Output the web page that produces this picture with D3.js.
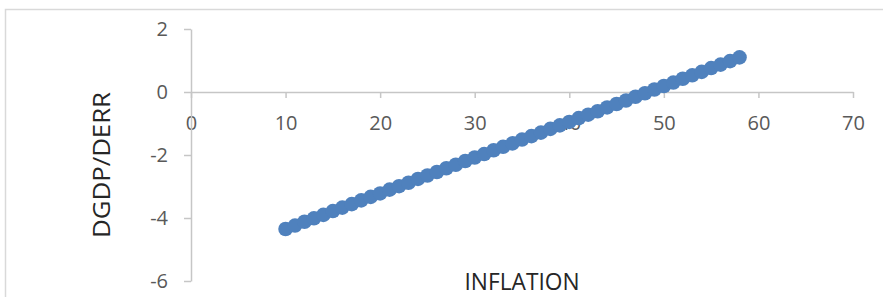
<!DOCTYPE html>
<html>
<head>
<meta charset="utf-8">
<script src="https://cdn.jsdelivr.net/npm/d3@7"></script>
<style>
  html, body { margin: 0; padding: 0; background: #fff; }
  svg { display: block; font-family: "Open Sans", sans-serif; }
</style>
</head>
<body>
<div id="chart"></div>
<script>
"use strict";

// Data
const inflation = [
  10, 11, 12, 13, 14, 15, 16, 17, 18, 19,
  20, 21, 22, 23, 24, 25, 26, 27, 28, 29,
  30, 31, 32, 33, 34, 35, 36, 37, 38, 39,
  40, 41, 42, 43, 44, 45, 46, 47, 48, 49,
  50, 51, 52, 53, 54, 55, 56, 57, 58
];
const dgdpDerr = [
  -4.35, -4.24, -4.12, -4.01, -3.90, -3.78, -3.67, -3.56, -3.44, -3.33,
  -3.22, -3.10, -2.99, -2.88, -2.76, -2.65, -2.54, -2.42, -2.31, -2.19,
  -2.08, -1.97, -1.85, -1.74, -1.63, -1.51, -1.40, -1.29, -1.17, -1.06,
  -0.95, -0.83, -0.72, -0.61, -0.49, -0.38, -0.27, -0.15, -0.04, 0.08,
  0.19, 0.30, 0.42, 0.53, 0.64, 0.76, 0.87, 0.98, 1.10
];
const xTicks = [0, 10, 20, 30, 40, 50, 60, 70];
const yTicks = [-6, -4, -2, 0, 2];
const xTitle = "INFLATION";
const yTitle = "DGDP/DERR";

const width = 883;
const height = 297;

const axisColour = "#c6c6c6";
const labelColour = "#595959";
const pointColour = "#4f81bd";

const svg = d3.select("#chart")
  .append("svg")
  .attr("width", width)
  .attr("height", height);

// Chart frame (runs off the right and bottom edges)
svg.append("rect")
  .attr("x", 5.5)
  .attr("y", 9.5)
  .attr("width", width + 20)
  .attr("height", height + 20)
  .attr("fill", "none")
  .attr("stroke", "#d9d9d9")
  .attr("stroke-width", 1.5);

// Scales
const x = d3.scaleLinear().domain([0, 70]).range([191, 853]);
const y = d3.scaleLinear().domain([-6, 2]).range([281, 29]);

// plain hyphen for negatives, like the source
const plain = d => String(d);

// X axis sits at y = 0
const xAxis = svg.append("g")
  .attr("transform", `translate(0, ${y(0)})`)
  .call(d3.axisBottom(x).tickValues(xTicks).tickFormat(plain)
    .tickSize(6).tickSizeOuter(0).tickPadding(18));

// Y axis sits at x = 0
const yAxis = svg.append("g")
  .attr("transform", `translate(${x(0)}, 0)`)
  .call(d3.axisLeft(y).tickValues(yTicks).tickFormat(plain)
    .tickSize(7).tickSizeOuter(0).tickPadding(16));

[xAxis, yAxis].forEach(g => {
  g.select(".domain").attr("stroke", axisColour).attr("stroke-width", 1.5);
  g.selectAll(".tick line").attr("stroke", axisColour).attr("stroke-width", 1.5);
  g.selectAll(".tick text")
    .attr("fill", labelColour)
    .attr("font-size", "20px")
    .attr("font-family", "'Open Sans', sans-serif");
});

// Points
const points = inflation.map((v, i) => ({ x: v, y: dgdpDerr[i] }));

svg.append("g")
  .selectAll("circle")
  .data(points)
  .join("circle")
  .attr("cx", d => x(d.x))
  .attr("cy", d => y(d.y))
  .attr("r", 7.3)
  .attr("fill", pointColour);

// Axis titles
svg.append("text")
  .attr("x", 522)
  .attr("y", 290)
  .attr("text-anchor", "middle")
  .attr("font-size", "24px")
  .attr("fill", "#262626")
  .attr("textLength", 115)
  .attr("lengthAdjust", "spacingAndGlyphs")
  .text(xTitle);

svg.append("text")
  .attr("transform", "translate(110, 165) rotate(-90)")
  .attr("text-anchor", "middle")
  .attr("font-size", "24px")
  .attr("fill", "#262626")
  .attr("textLength", 146)
  .attr("lengthAdjust", "spacingAndGlyphs")
  .text(yTitle);
</script>
</body>
</html>
